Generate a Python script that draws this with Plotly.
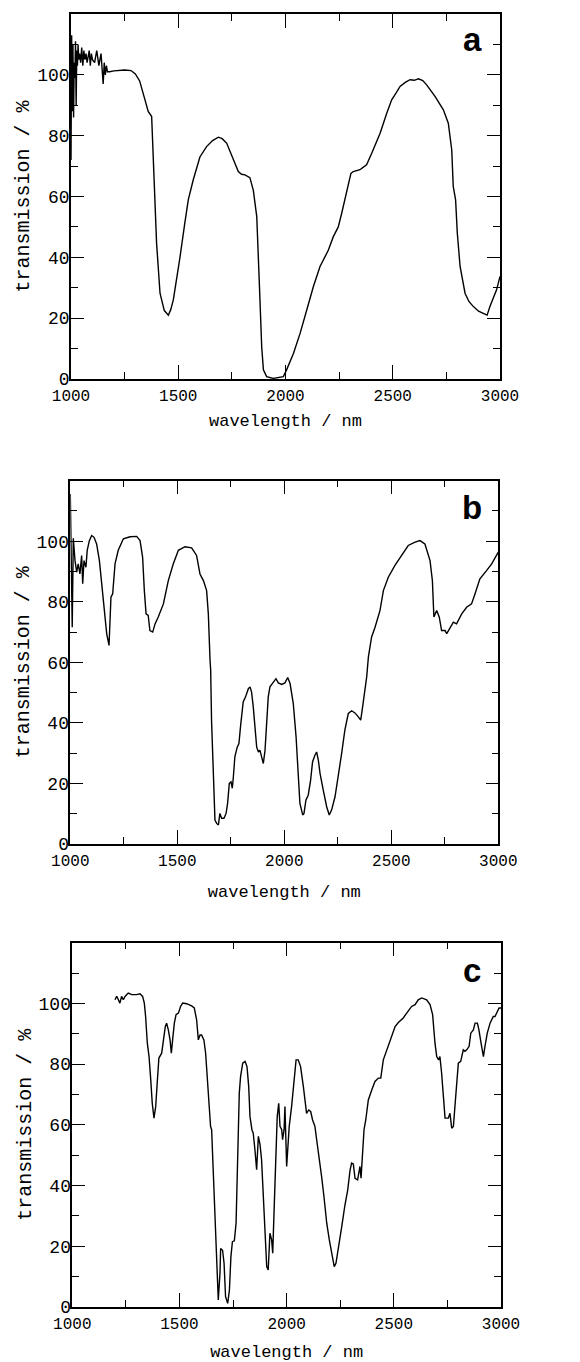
import plotly.graph_objects as go

# ---------------- data ----------------
wl_a = [1000, 1003, 1006, 1009, 1012, 1015, 1018, 1021, 1024, 1027, 1030, 1033, 1036,
        1040, 1045, 1050, 1055, 1060, 1065, 1070, 1075, 1080, 1085, 1090, 1095, 1100,
        1110, 1120, 1130, 1140, 1150, 1155, 1160, 1165, 1170, 1180, 1200, 1250, 1280,
        1300, 1320, 1340, 1360, 1376, 1385, 1392, 1399, 1415, 1435, 1454, 1465, 1477,
        1490, 1508, 1530, 1547, 1570, 1601, 1632, 1660, 1687, 1705, 1726, 1757, 1780,
        1795, 1811, 1834, 1850, 1866, 1873, 1881, 1889, 1897, 1912, 1943, 1990, 2005,
        2037, 2068, 2099, 2130, 2161, 2200, 2223, 2246, 2262, 2277, 2293, 2305, 2316,
        2330, 2347, 2360, 2378, 2402, 2441, 2472, 2495, 2515, 2534, 2560, 2581, 2600,
        2620, 2640, 2658, 2697, 2736, 2759, 2775, 2782, 2793, 2801, 2814, 2837, 2855,
        2876, 2900, 2922, 2940, 2953, 2970, 2984, 3000]
tr_a = [72, 113, 88, 110, 86, 104, 99, 111, 90, 108, 103, 110, 105,
        107, 104, 109, 103, 108, 105, 107, 104, 106, 108, 103, 107, 105,
        104, 108, 103, 107, 97, 104, 100, 103, 101, 101, 101.3, 101.6, 101.4,
        100.3, 98, 93, 88, 86.3, 72, 58.9, 44.6, 28.2, 22.5, 21, 22.8, 26,
        31.5, 40, 51, 59, 65.5, 73, 76.4, 78.4, 79.5, 79, 77.5, 72, 68.2,
        67.3, 67.1, 66.2, 62, 53.4, 42.4, 26, 10.6, 3, 0.8, 0.2, 0.8, 3,
        8.4, 15, 22.7, 30.4, 37, 42.4, 46.8, 50, 54.5, 58.9, 63.3, 67.6, 68.2,
        68.4, 68.8, 69.5, 70.4, 74.2, 80.8, 87.4, 91.8, 94, 96.2, 97.6, 98.4, 98.2,
        98.7, 98.1, 96.7, 92.9, 88.5, 84.1, 75.3, 63.3, 58.9, 47.9, 37, 28.2, 25.5,
        23.8, 22.3, 21.6, 21, 23.8, 26.5, 29.3, 33.7]

wl_b = [1000, 1005, 1009, 1014, 1022, 1030, 1037, 1045, 1053, 1058, 1064, 1073, 1079,
        1089, 1100, 1111, 1123, 1136, 1146, 1162, 1170, 1181, 1190, 1198, 1209, 1224,
        1248, 1279, 1310, 1326, 1338, 1346, 1354, 1364, 1372, 1385, 1396, 1411, 1435,
        1458, 1481, 1505, 1536, 1567, 1590, 1606, 1622, 1637, 1645, 1653, 1656, 1660,
        1668, 1676, 1684, 1692, 1699, 1707, 1718, 1728, 1735, 1743, 1751, 1757, 1762,
        1769, 1780, 1788, 1796, 1808, 1819, 1832, 1840, 1847, 1855, 1863, 1871, 1879,
        1886, 1894, 1902, 1910, 1917, 1925, 1933, 1949, 1961, 1972, 1988, 2003, 2016,
        2027, 2042, 2055, 2062, 2073, 2086, 2092, 2101, 2112, 2123, 2132, 2143, 2151,
        2159, 2167, 2182, 2198, 2210, 2221, 2237, 2252, 2268, 2283, 2299, 2315, 2330,
        2346, 2357, 2366, 2377, 2385, 2393, 2408, 2424, 2447, 2463, 2486, 2517, 2548,
        2579, 2611, 2634, 2657, 2681, 2692, 2699, 2712, 2724, 2735, 2751, 2759, 2774,
        2790, 2805, 2829, 2852, 2875, 2891, 2914, 2945, 2969, 3000]
tr_b = [115.6, 95, 71.6, 101, 93.6, 89.8, 92.5, 89.2, 95.3, 86, 93.6, 91.4, 97,
        100.2, 101.9, 101.3, 99.1, 93.6, 86, 75, 69.5, 65.6, 81.5, 82.6, 92.5, 97,
        100.8, 101.5, 101.6, 100.2, 94.7, 83.7, 76, 75.5, 70.5, 70, 72.7, 75, 79.3,
        87, 92.5, 97, 98.2, 97.8, 95.3, 89.2, 87, 83.7, 76, 60.7, 57.4, 40.9,
        24.4, 7.9, 6.8, 6.3, 10.1, 8.5, 8.5, 10.1, 13.4, 20, 20.5, 18.4, 22.2,
        28.8, 32, 33.2, 39.2, 46.9, 48.6, 51.3, 51.9, 50.2, 45.3, 38.7, 32, 30.4,
        31, 28.8, 26.6, 31, 38.7, 48.6, 51.9, 53.5, 54.6, 53.2, 52.7, 53.2, 55,
        53, 46.4, 35.4, 26.6, 13.4, 9.6, 10.1, 14.5, 16.2, 21.1, 27.1, 29.3, 30.4,
        27.7, 23.3, 17.8, 12.3, 9.6, 11.2, 15.6, 22.2, 29.9, 37.6, 43.1, 44, 43.3,
        42, 40.9, 45.3, 50.8, 55.2, 61.8, 68.4, 71.6, 77.1, 83.7, 88.1, 92, 95.3,
        98.6, 99.7, 100.2, 99.1, 93.6, 87, 75, 77.1, 75, 70.5, 70.5, 69.5, 71.6,
        73.3, 72.7, 76, 78.2, 79.3, 82.6, 87.6, 90.3, 92.5, 96.4]

wl_c = [1199, 1207, 1215, 1222, 1230, 1238, 1246, 1261, 1277, 1300, 1316, 1328, 1336,
        1342, 1350, 1358, 1366, 1373, 1381, 1389, 1397, 1404, 1417, 1425, 1434, 1440,
        1448, 1456, 1462, 1468, 1476, 1484, 1495, 1505, 1515, 1533, 1557, 1569, 1580,
        1588, 1596, 1603, 1614, 1622, 1630, 1639, 1645, 1650, 1661, 1670, 1681, 1689,
        1692, 1701, 1708, 1715, 1725, 1733, 1740, 1747, 1756, 1764, 1770, 1776, 1779,
        1785, 1795, 1806, 1815, 1823, 1829, 1838, 1844, 1852, 1860, 1868, 1876, 1883,
        1891, 1899, 1907, 1914, 1922, 1930, 1935, 1941, 1947, 1953, 1956, 1963, 1969,
        1977, 1981, 1988, 1992, 2000, 2008, 2012, 2023, 2031, 2044, 2054, 2065, 2078,
        2086, 2093, 2103, 2112, 2121, 2132, 2140, 2152, 2163, 2174, 2187, 2199, 2215,
        2222, 2230, 2241, 2257, 2272, 2285, 2296, 2303, 2311, 2319, 2331, 2339, 2342,
        2347, 2353, 2361, 2369, 2381, 2397, 2412, 2428, 2439, 2451, 2467, 2486, 2506,
        2521, 2544, 2560, 2583, 2599, 2614, 2630, 2653, 2669, 2681, 2692, 2700, 2709,
        2715, 2723, 2731, 2739, 2754, 2762, 2770, 2778, 2785, 2793, 2801, 2812, 2824,
        2832, 2840, 2851, 2859, 2871, 2879, 2890, 2897, 2907, 2918, 2925, 2936, 2949,
        2964, 2972, 2980, 2991, 3000]
tr_c = [101.2, 102.3, 101.2, 100.1, 102.3, 101.2, 102.3, 103.4, 102.9, 102.9, 103.2, 102.3, 100.1,
        95.7, 86.9, 82.5, 74.8, 67.1, 62.2, 66, 74.8, 82, 83.6, 88, 92.4, 93.5,
        91.3, 88, 83.6, 88, 93.5, 96.3, 96.8, 99, 100.1, 99.9, 99.2, 98.5, 94.6,
        88, 89.6, 89.6, 88, 83.6, 75.9, 67.1, 59.5, 58.4, 36.4, 22.1, 2.3, 11.1,
        19.3, 18.7, 14.4, 3.4, 1.2, 5.6, 16.6, 21.5, 21.8, 27.6, 41.9, 58.4, 70.4,
        75.9, 80.3, 80.9, 79.2, 72.6, 62.7, 58.4, 57.3, 51.8, 45.2, 56.2, 53.4, 48.5,
        36.4, 22.1, 13.3, 12.2, 24.3, 22.1, 17.7, 30.9, 46.3, 54, 62.7, 67.1, 59.5,
        58.4, 55.1, 58.4, 66, 46.3, 54, 59.5, 66, 72.6, 81.4, 81.4, 79.2, 72.6,
        68.2, 63.8, 64.9, 64.4, 61.6, 59.5, 55.1, 49.6, 43, 36.4, 27.6, 22.1, 16,
        13.3, 14.4, 18.8, 26.5, 33.6, 38.6, 45.2, 47.4, 47.1, 42.4, 41.9, 45.2, 46.3,
        42.4, 48.5, 58.4, 61.6, 68.2, 71.5, 74.3, 75.4, 75.4, 81.4, 84.7, 88, 92.4,
        93.7, 95.2, 96.8, 99, 99.6, 101.2, 101.8, 101.2, 99.6, 96.3, 86.9, 82.5, 81.4,
        82.5, 77, 70.4, 62.2, 62.2, 63.8, 58.9, 59.5, 66, 74.8, 80.3, 80.9, 84.7,
        84.2, 84.7, 85.8, 90.2, 91.3, 93.5, 93.5, 91.3, 86.9, 82.5, 85.8, 90.2, 93.5,
        95.7, 95.7, 96.8, 98.5, 98.5]

panel_labels = ["a", "b", "c"]
x_ticks = [1000, 1500, 2000, 2500, 3000]
x_minor = [1250, 1750, 2250, 2750]
y_ticks = [0, 20, 40, 60, 80, 100]
y_minor = [10, 30, 50, 70, 90, 110]
x_title = "wavelength / nm"
y_title = "transmission / %"

# ---------------- figure ----------------
# the page body has an 8px margin, so the figure is drawn 8px smaller and
# every screen position below is shifted by that offset
OFF = 8
W, H = 580 - OFF, 1362 - OFF
# panel boxes in screen pixels: (left, right, top, bottom)
boxes = [(71, 500, 14, 379), (70.3, 498.3, 480.7, 844), (72.3, 501, 942.7, 1307)]
label_pos = [(2870, 111.5), (2877, 111), (2865, 111)]
x_title_gap = [9, 15, 17]

mono = "Liberation Mono, Courier New, monospace"
fig = go.Figure()
series = [(wl_a, tr_a), (wl_b, tr_b), (wl_c, tr_c)]
for i, (xs, ys) in enumerate(series):
    sfx = "" if i == 0 else str(i + 1)
    fig.add_trace(go.Scatter(x=xs, y=ys, mode="lines",
                             line=dict(color="black", width=1.4),
                             xaxis="x" + sfx, yaxis="y" + sfx, showlegend=False,
                             hoverinfo="skip"))

layout = dict(width=W, height=H, margin=dict(l=0, r=0, t=0, b=0, autoexpand=False),
              paper_bgcolor="white", plot_bgcolor="white", showlegend=False,
              annotations=[])
for i, (l, r, t, b) in enumerate(boxes):
    l, r, t, b = l - OFF, r - OFF, t - OFF, b - OFF
    sfx = "" if i == 0 else str(i + 1)
    xa = dict(domain=[l / W, r / W], range=[1000, 3000], anchor="y" + sfx,
              automargin=False,
              showline=True, linecolor="black", linewidth=1.5, mirror="ticks",
              ticks="inside", ticklen=14, tickwidth=1.4, tickcolor="black",
              tickmode="array", tickvals=x_ticks, showgrid=False, zeroline=False,
              tickfont=dict(family=mono, size=16, color="black"),
              ticklabelstandoff=1,
              minor=dict(tickmode="array", tickvals=x_minor, ticks="inside",
                         ticklen=7, tickwidth=1.4, tickcolor="black", showgrid=False),
              title=dict(text=x_title, font=dict(family=mono, size=17, color="black"),
                         standoff=x_title_gap[i]))
    ya = dict(domain=[1 - b / H, 1 - t / H], range=[0, 120], anchor="x" + sfx,
              automargin=False,
              showline=True, linecolor="black", linewidth=1.5, mirror="ticks",
              ticks="inside", ticklen=13, tickwidth=1.4, tickcolor="black",
              tickmode="array", tickvals=y_ticks, showgrid=False, zeroline=False,
              tickfont=dict(family=mono, size=18, color="black"),
              ticklabelstandoff=-4,
              minor=dict(tickmode="array", tickvals=y_minor, ticks="inside",
                         ticklen=7, tickwidth=1.4, tickcolor="black", showgrid=False),
              title=dict(text=y_title, font=dict(family=mono, size=20, color="black"),
                         standoff=2))
    layout["xaxis" + sfx] = xa
    layout["yaxis" + sfx] = ya
    lx, ly = label_pos[i]
    layout["annotations"].append(dict(text="<b>%s</b>" % panel_labels[i], x=lx, y=ly,
                                      xref="x" + sfx, yref="y" + sfx, showarrow=False,
                                      xanchor="center", yanchor="middle",
                                      font=dict(family="Liberation Sans, Arial", size=33,
                                                color="black")))
fig.update_layout(**layout)
fig.write_html("out.html")
